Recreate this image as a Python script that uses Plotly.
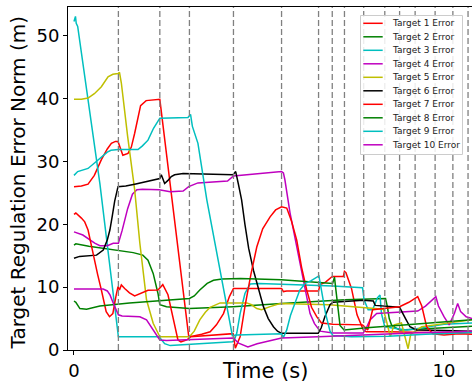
import plotly.graph_objects as go

# ---------------- data ----------------
event_times = [1.20, 2.32, 3.12, 4.31, 5.61, 6.61, 6.98, 7.31, 7.83, 8.40,
               8.80, 9.22, 9.76, 10.24, 10.65]

t1 = [0.0, 0.2, 0.38, 0.55, 0.74, 0.9, 1.01, 1.12, 1.19, 1.23, 1.32, 1.46, 1.55, 1.64, 1.72, 1.8,
      1.95, 2.1, 2.32, 3.1, 3.2, 3.45, 3.68, 3.85, 4.04, 4.2, 4.31, 5.61, 5.66, 5.75, 6.61, 6.65,
      6.8, 6.98, 7.28, 7.31, 7.35, 7.5, 7.65, 7.82, 7.9, 8.5, 9.5, 10.2, 10.76]
e1 = [26.0, 26.1, 26.4, 27.8, 30.3, 32.0, 32.9, 33.2, 33.2, 32.4, 31.0, 31.3, 32.3, 34.5, 37.0, 38.9,
      39.7, 39.8, 39.9, 2.2, 2.2, 2.5, 2.9, 4.0, 5.8, 8.5, 9.8, 9.8, 9.3, 9.4, 9.4, 10.4,
      10.8, 11.7, 11.7, 12.5, 12.3, 9.8, 5.6, 3.2, 2.9, 2.9, 2.8, 2.7, 2.8]

t2 = [0.0, 0.05, 0.4, 0.74, 1.19, 1.6, 1.86, 2.0, 2.14, 2.27, 2.32, 2.5, 3.12, 4.3, 5.61, 6.61,
      7.32, 8.42, 8.47, 8.52, 8.58, 8.7, 8.81, 9.5, 10.2, 10.76]
e2 = [16.7, 16.9, 16.5, 16.2, 15.9, 15.5, 15.1, 14.3, 12.2, 9.0, 7.2, 6.9, 6.6, 6.9, 7.4, 7.7,
      8.0, 8.2, 6.9, 5.0, 4.0, 3.5, 3.2, 3.4, 3.6, 3.8]

t3 = [0.0, 0.04, 0.06, 0.1, 0.7, 1.17, 1.2, 2.3, 2.36, 2.45, 2.6, 3.2, 4.28, 4.33, 4.4, 4.49,
      4.62, 4.76, 5.0, 6.0, 7.0, 7.8, 7.84, 7.95, 8.07, 8.2, 8.27, 8.31, 8.4, 8.6, 9.0, 9.5,
      10.0, 10.76]
e3 = [52.3, 53.1, 52.0, 51.5, 26.5, 2.6, 2.1, 2.1, 1.7, 1.0, 0.7, 0.9, 1.3, 1.5, 2.7, 5.8,
      9.0, 10.5, 10.6, 10.4, 10.2, 9.9, 8.0, 6.4, 6.4, 8.3, 8.75, 5.8, 3.7, 3.5, 3.2, 3.6,
      4.1, 4.3]

t4 = [0.0, 0.24, 0.56, 0.7, 0.9, 1.06, 1.2, 1.3, 1.45, 1.58, 1.7, 1.85, 2.3, 2.6, 2.95, 3.1,
      3.35, 4.04, 4.15, 4.31, 5.61, 5.66, 5.7, 5.84, 6.11, 6.38, 6.5, 6.65, 7.0, 7.82, 7.9, 8.0,
      8.18, 8.8, 9.29, 9.5, 9.7, 9.78, 9.85, 10.0, 10.14, 10.28, 10.37, 10.45, 10.6, 10.76]
e4 = [18.8, 18.3, 17.0, 16.6, 16.6, 17.0, 17.0, 19.0, 22.5, 24.8, 25.5, 25.6, 25.5, 25.2, 25.3, 26.0,
      26.6, 26.8, 26.9, 27.7, 28.4, 28.2, 27.1, 21.8, 13.8, 5.8, 4.2, 3.0, 2.7, 2.7, 3.5, 4.8,
      5.8, 6.0, 6.2, 7.0, 8.0, 8.5, 7.0, 5.3, 4.0, 5.8, 7.4, 6.1, 5.3, 5.0]

t5 = [0.0, 0.2, 0.38, 0.55, 0.74, 0.92, 1.05, 1.19, 1.23, 1.28, 1.45, 1.64, 1.78, 1.96, 2.14, 2.32,
      3.12, 3.25, 3.4, 3.55, 3.68, 3.85, 3.95, 4.67, 4.8, 4.94, 5.07, 5.3, 5.57, 6.9, 8.36, 8.45,
      8.55, 8.65, 8.85, 8.95, 9.03, 9.1, 9.4, 10.0, 10.76]
e5 = [39.9, 39.9, 40.1, 40.8, 41.9, 43.5, 43.9, 44.0, 44.2, 42.5, 34.0, 25.5, 17.0, 8.0, 4.25, 2.1,
      2.1, 3.0, 4.8, 6.0, 6.8, 7.3, 7.5, 7.5, 7.2, 6.6, 6.4, 6.9, 7.4, 7.2, 6.5, 4.5,
      2.1, 4.0, 4.3, 2.0, 0.2, 2.5, 3.7, 4.2, 4.8]

t6 = [0.0, 0.15, 0.61, 0.79, 0.9, 0.97, 1.04, 1.1, 1.19, 1.4, 1.64, 2.23, 2.32, 2.36, 2.41, 2.45,
      2.54, 2.63, 2.72, 2.95, 4.3, 4.37, 4.44, 4.53, 4.62, 4.72, 4.85, 5.0, 5.12, 5.25, 5.39, 5.5,
      5.61, 6.6, 6.68, 6.78, 6.92, 7.0, 7.82, 8.09, 8.14, 8.8, 8.88, 8.96, 9.08, 9.26, 10.0, 10.76]
e6 = [14.6, 14.9, 15.1, 15.9, 17.5, 19.1, 21.5, 23.7, 26.0, 26.1, 26.4, 27.2, 27.3, 27.9, 27.1, 26.5,
      27.0, 27.6, 27.9, 28.1, 27.9, 28.4, 26.5, 23.9, 20.0, 16.2, 12.7, 9.5, 6.9, 5.0, 3.7, 3.0,
      2.65, 2.65, 3.5, 5.3, 7.2, 7.6, 7.9, 7.8, 7.1, 6.8, 6.0, 5.0, 3.7, 3.2, 3.1, 3.0]

t7 = [0.0, 0.05, 0.2, 0.29, 0.38, 0.51, 0.64, 0.74, 0.87, 0.96, 1.05, 1.14, 1.19, 1.23, 1.28, 1.37,
      1.5, 1.64, 1.82, 2.0, 2.27, 2.33, 2.4, 2.54, 2.72, 2.81, 2.89, 3.05, 3.15, 4.3, 4.36, 4.49,
      4.62, 4.78, 4.94, 5.1, 5.3, 5.45, 5.61, 5.75, 5.88, 6.02, 6.15, 6.29, 6.42, 6.56, 6.69, 7.0,
      7.8, 7.94, 8.07, 8.8, 9.05, 9.29, 9.4, 9.53, 9.7, 10.0, 10.4, 10.76]
e7 = [21.6, 21.8, 21.0, 20.4, 19.1, 15.4, 12.0, 9.55, 6.1, 5.3, 5.8, 8.75, 10.1, 9.55, 10.35, 9.8,
      9.1, 8.6, 9.0, 9.5, 9.55, 10.0, 10.4, 8.8, 3.7, 1.6, 1.3, 1.6, 2.1, 2.6, 0.3, 2.1,
      6.9, 12.0, 16.4, 19.3, 21.2, 22.3, 22.8, 22.6, 20.5, 17.5, 13.2, 9.55, 6.8, 5.3, 4.3, 4.1,
      4.0, 3.2, 6.4, 6.9, 7.6, 8.5, 7.0, 3.7, 2.6, 2.4, 2.6, 2.5]

t8 = [0.0, 0.05, 0.16, 0.34, 0.7, 1.5, 3.12, 3.25, 3.4, 3.6, 3.77, 4.0, 4.5, 5.6, 6.99, 7.04,
      7.08, 7.13, 7.19, 7.3, 7.44, 8.0, 9.0, 10.0, 10.76]
e8 = [7.8, 7.6, 6.6, 6.5, 7.0, 7.5, 8.2, 8.6, 9.55, 10.6, 11.1, 11.3, 11.4, 11.2, 10.6, 11.6,
      9.5, 7.0, 3.9, 3.2, 3.3, 3.6, 4.0, 4.4, 4.8]

t9 = [0.0, 0.02, 0.1, 0.38, 0.6, 0.74, 0.9, 1.0, 1.2, 1.5, 1.73, 1.85, 2.0, 2.15, 2.32, 3.08,
      3.15, 3.2, 3.35, 3.59, 4.28, 4.4, 5.61, 5.66, 5.75, 5.85, 6.0, 6.1, 6.25, 6.4, 6.62, 6.66,
      6.72, 6.8, 6.92, 7.0, 7.5, 8.5, 9.5, 10.76]
e9 = [27.8, 27.9, 28.4, 28.9, 30.0, 30.8, 31.5, 31.8, 31.9, 31.9, 31.9, 32.5, 33.4, 35.3, 36.9, 37.0,
      37.5, 35.6, 32.9, 23.9, 2.3, 2.4, 2.6, 2.0, 3.2, 5.5, 8.0, 9.5, 10.6, 11.0, 11.8, 10.4,
      9.0, 5.8, 3.0, 2.3, 2.1, 2.2, 2.5, 2.8]

t10 = [0.0, 0.16, 0.79, 0.9, 0.97, 1.08, 1.2, 1.3, 1.78, 1.96, 2.14, 2.32, 2.5, 4.3, 4.45, 4.7,
       4.95, 5.61, 6.6, 8.4, 9.5, 10.76]
e10 = [9.7, 9.7, 9.7, 9.4, 8.8, 7.2, 5.6, 5.4, 5.3, 4.8, 3.2, 1.6, 1.5, 1.9, 1.1, 0.5,
       1.0, 1.9, 2.1, 2.6, 2.8, 3.0]

series_names = ["Target 1 Error", "Target 2 Error", "Target 3 Error", "Target 4 Error",
                "Target 5 Error", "Target 6 Error", "Target 7 Error", "Target 8 Error",
                "Target 9 Error", "Target 10 Error"]
series_t = [t1, t2, t3, t4, t5, t6, t7, t8, t9, t10]
series_e = [e1, e2, e3, e4, e5, e6, e7, e8, e9, e10]

# ---------------- styling ----------------
colors = ["#ff0000", "#008000", "#00bfbf", "#bf00bf", "#bfbf00",
          "#000000", "#ff0000", "#008000", "#00bfbf", "#bf00bf"]
FONT = "DejaVu Sans"
W, H = 472, 383
L, R, T, B = 68, 0, 7, 33
PW, PH = W - L - R, H - T - B


def pxx(px):
    return (px - L) / PW


def pxy(py):
    return (H - B - py) / PH


fig = go.Figure()
for name, tt, ee, c in zip(series_names, series_t, series_e, colors):
    fig.add_trace(go.Scatter(x=tt, y=ee, mode="lines", name=name,
                             line=dict(color=c, width=1.5), showlegend=False))

shapes = []
for et in event_times:
    shapes.append(dict(type="line", xref="x", yref="paper", x0=et, x1=et, y0=0, y1=1,
                       line=dict(color="#808080", width=1.3, dash="6px,3px")))

# legend box (drawn manually to match compact matplotlib legend)
shapes.append(dict(type="rect", xref="paper", yref="paper",
                   x0=pxx(360.5), x1=pxx(462.5), y0=pxy(154.5), y1=pxy(15.5),
                   fillcolor="rgba(255,255,255,0.85)", line=dict(color="#cccccc", width=1)))
annotations = []
for i, (name, c) in enumerate(zip(series_names, colors)):
    yc = 23.3 + 13.5 * i
    shapes.append(dict(type="line", xref="paper", yref="paper",
                       x0=pxx(363.3), x1=pxx(382.7), y0=pxy(yc), y1=pxy(yc),
                       line=dict(color=c, width=1.5)))
    annotations.append(dict(xref="paper", yref="paper", x=pxx(389.5), y=pxy(yc),
                            text=name, showarrow=False, xanchor="left", yanchor="middle",
                            font=dict(family=FONT, size=9, color="#222222")))

annotations.append(dict(xref="paper", yref="paper", x=pxx(17.5), y=pxy(183),
                        text="Target Regulation Error Norm (m)", textangle=-90,
                        showarrow=False, xanchor="center", yanchor="middle",
                        font=dict(family=FONT, size=20, color="black")))
annotations.append(dict(xref="paper", yref="paper", x=pxx(265), y=pxy(371),
                        text="Time (s)", showarrow=False, xanchor="center", yanchor="middle",
                        font=dict(family=FONT, size=21, color="black")))

fig.update_layout(
    width=W, height=H,
    margin=dict(l=L, r=R, t=T, b=B, pad=0),
    paper_bgcolor="white", plot_bgcolor="white",
    font=dict(family=FONT, color="black"),
    shapes=shapes, annotations=annotations,
    xaxis=dict(range=[-0.162, 10.757], tickvals=[0, 10], showgrid=False, zeroline=False,
               showline=True, linecolor="black", linewidth=1, mirror=True,
               ticks="outside", ticklen=4, tickwidth=1, tickcolor="black",
               tickfont=dict(family=FONT, size=18, color="black")),
    yaxis=dict(range=[0, 54.6], tickvals=[0, 10, 20, 30, 40, 50], showgrid=False, zeroline=False,
               showline=True, linecolor="black", linewidth=1, mirror=False,
               ticks="outside", ticklen=4, tickwidth=1, tickcolor="black",
               tickfont=dict(family=FONT, size=18, color="black")),
)

fig.write_html("out.html", config={"displayModeBar": False},
               post_script="document.body.style.margin='0px';document.body.style.overflow='hidden';")
